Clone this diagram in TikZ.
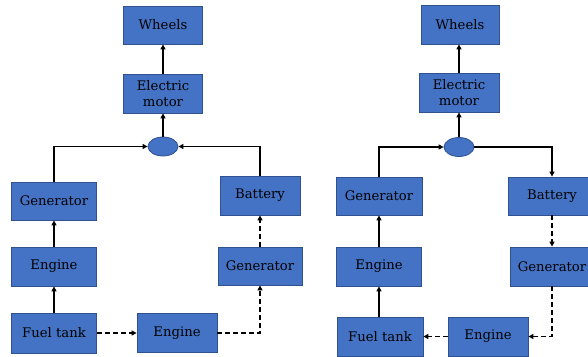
\documentclass[tikz,border=0pt]{standalone}
\usepackage{fontspec}
\setmainfont{DejaVu Serif}
\usetikzlibrary{shapes.geometric,arrows.meta}
\definecolor{boxfill}{HTML}{4472C4}
\definecolor{boxline}{HTML}{2F528F}
\tikzset{
  blk/.style={draw=boxline, line width=0.8pt, fill=boxfill, inner sep=0pt, align=center,
    font=\rmfamily\fontsize{13.2}{16.5}\selectfont, text=black},
  junc/.style={ellipse, draw=boxline, line width=0.8pt, fill=boxfill, inner sep=0pt,
    minimum width=30pt, minimum height=19pt},
  flow/.style={line width=1.8pt, -{Triangle[length=5pt,width=5pt]}},
  dflow/.style={flow, dash pattern=on 5pt off 3pt}
}
\begin{document}
\begin{tikzpicture}[x=1pt,y=-1pt]
\useasboundingbox (0,0) rectangle (588,356);
\clip (0,0) rectangle (588,356);
% ---------- left diagram ----------
\node[blk, minimum width=79pt, minimum height=38pt] (W1) at (163,25) {Wheels};
\node[blk, minimum width=79pt, minimum height=39pt] (M1) at (163,93.5) {Electric\\motor};
\node[junc] (E1) at (163,146.5) {};
\node[blk, minimum width=85pt, minimum height=38pt] (G1) at (54,201) {Generator};
\node[blk, minimum width=85pt, minimum height=39pt] (N1) at (54,266.5) {Engine};
\node[blk, minimum width=85pt, minimum height=40pt] (F1) at (54,333) {Fuel tank};
\node[blk, minimum width=80pt, minimum height=39pt] (N2) at (177,333) {Engine};
\node[blk, minimum width=84pt, minimum height=38pt] (G2) at (260,266) {Generator};
\node[blk, minimum width=80pt, minimum height=39pt] (B1) at (260,195.5) {Battery};

\draw[flow] (F1.north) -- (N1.south);
\draw[flow] (N1.north) -- (G1.south);
\draw[flow] (G1.north) |- (E1.west);
\draw[flow] (B1.north) |- (E1.east);
\draw[flow] (E1.north) -- (M1.south);
\draw[flow] (M1.north) -- (W1.south);
\draw[dflow] (F1.east) -- (N2.west);
\draw[dflow] (N2.east) -| (G2.south);
\draw[dflow] (G2.north) -- (B1.south);

% ---------- right diagram ----------
\node[blk, minimum width=78pt, minimum height=39pt] (W2) at (460,24.5) {Wheels};
\node[blk, minimum width=80pt, minimum height=39pt] (M2) at (459,92.5) {Electric\\motor};
\node[junc] (E2) at (459,147) {};
\node[blk, minimum width=86pt, minimum height=38pt] (G3) at (379,196) {Generator};
\node[blk, minimum width=85pt, minimum height=39pt] (N3) at (379,266.5) {Engine};
\node[blk, minimum width=86pt, minimum height=39pt] (F2) at (380,336.5) {Fuel tank};
\node[blk, minimum width=80pt, minimum height=39pt] (N4) at (488,336.5) {Engine};
\node[blk, minimum width=88pt, minimum height=38pt] (B2) at (552,196) {Battery};
\node[blk, minimum width=84pt, minimum height=39pt] (G4) at (552,266.5) {Generator};

\draw[flow] (F2.north -| N3) -- (N3.south);
\draw[flow] (N3.north) -- (G3.south);
\draw[flow] (G3.north) |- (E2.west);
\draw[flow] (E2.east) -| (B2.north);
\draw[flow] (E2.north) -- (M2.south);
\draw[flow] (M2.north) -- (W2.south -| M2.north);
\draw[dflow] (B2.south) -- (G4.north);
\draw[dflow] (G4.south) |- (N4.east);
\draw[dflow] (N4.west) -- (F2.east);
\end{tikzpicture}
\end{document}
